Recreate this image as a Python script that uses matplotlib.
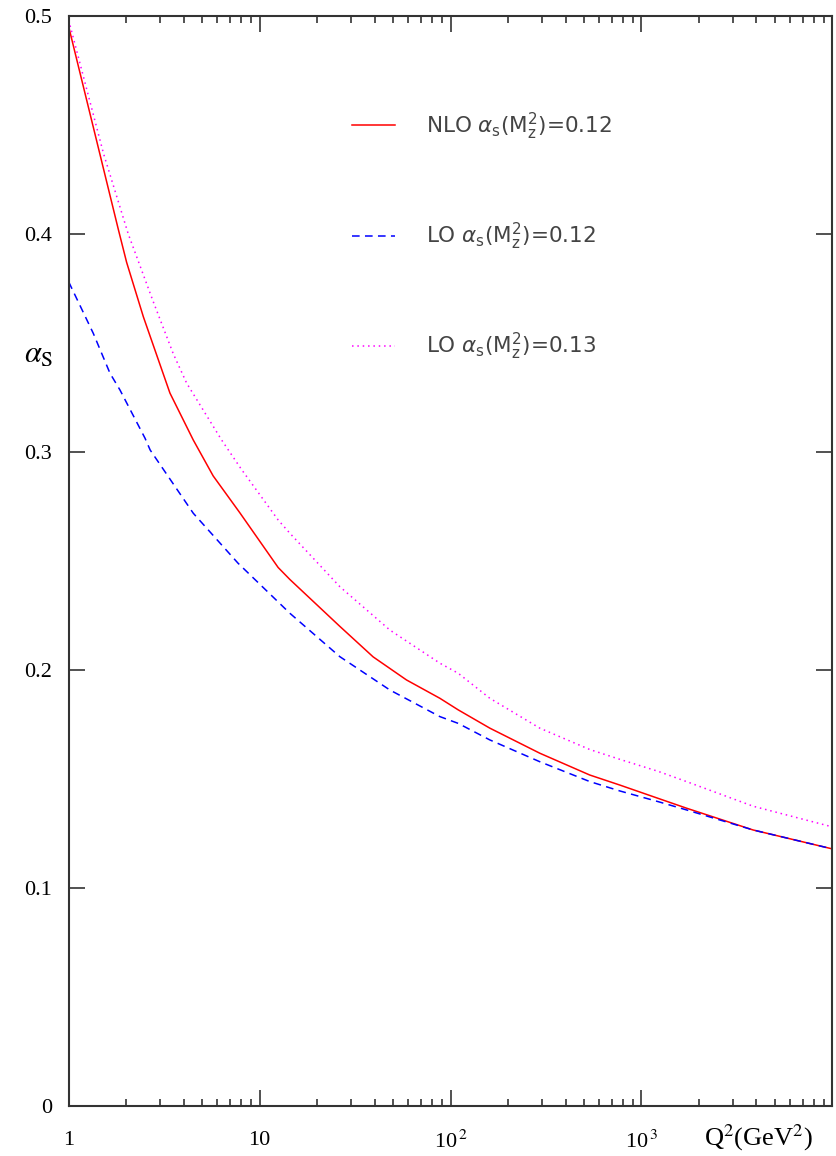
"""
alpha_s running: NLO vs LO
"""

import numpy as np
import matplotlib.pyplot as plt
from matplotlib.ticker import FixedLocator, FuncFormatter, NullFormatter

# values, Q^2 in GeV^2
q2_nlo = [1, 1.345, 1.82, 2.01, 2.46, 3.39, 4.49, 5.71, 7.89, 12.5, 14.4,
          26.3, 39.3, 58.8, 87.9, 109.6, 160.6, 293.4, 536, 770, 1222,
          1720, 3840, 10000]
nlo_012 = [0.495, 0.449, 0.402, 0.387, 0.362, 0.327, 0.3055, 0.289, 0.272,
           0.247, 0.2415, 0.220, 0.206, 0.1954, 0.187, 0.1817, 0.1733,
           0.1618, 0.1518, 0.1472, 0.1411, 0.1366, 0.1266, 0.1179]

q2_lo12 = [1, 1.345, 1.645, 1.856, 2.51, 2.67, 4.49, 7.7, 12.5, 14.4,
           26.3, 48.1, 87.9, 109.6, 160.6, 293.4, 536, 770, 1222, 1720,
           3840, 10000]
lo_012 = [0.378, 0.3544, 0.3361, 0.3284, 0.3063, 0.3009, 0.2719, 0.249,
          0.2312, 0.226, 0.2061, 0.1908, 0.1786, 0.1755, 0.1679, 0.1579,
          0.1488, 0.1445, 0.1396, 0.1358, 0.1266, 0.1179]

q2_lo13 = [1, 1.52, 2.05, 2.77, 3.53, 4.15, 6.32, 8.0, 12.5, 14.4,
           26.3, 48.1, 87.9, 109.6, 160.6, 293.4, 536, 770, 1222, 1720,
           3840, 10000]
lo_013 = [0.498, 0.437, 0.400, 0.369, 0.345, 0.3315, 0.3055, 0.2922,
          0.2688, 0.2627, 0.2382, 0.2183, 0.2031, 0.1985, 0.187, 0.1733,
          0.1635, 0.159, 0.1535, 0.1488, 0.1375, 0.128]

labels = [r"NLO $\alpha_{\rm s}(\rm M_z^2)$=0.12",
          r"LO $\alpha_{\rm s}(\rm M_z^2)$=0.12",
          r"LO $\alpha_{\rm s}(\rm M_z^2)$=0.13"]

serif = ["Liberation Serif", "DejaVu Serif"]

if __name__ == "__main__":
    fig = plt.figure(figsize=(8.36, 11.56), dpi=100)
    ax = fig.add_axes([0.0822, 0.0433, 0.9135, 0.9429])

    l1, = ax.plot(q2_nlo, nlo_012, color="#ff0000", lw=1.1, ls="-")
    l2, = ax.plot(q2_lo12, lo_012, color="#0000ff", lw=1.1, ls=(0, (5, 3.5)))
    l3, = ax.plot(q2_lo13, lo_013, color="#ff00ff", lw=1.1, ls=(0, (1, 2.5)))

    ax.set_xscale("log")
    ax.set_xlim(1, 1e4)
    ax.set_ylim(0, 0.5)

    # x ticks
    ax.xaxis.set_major_locator(FixedLocator([1, 10, 100, 1000, 10000]))
    minors = [m * 10 ** d for d in range(4) for m in range(2, 10)]
    ax.xaxis.set_minor_locator(FixedLocator(minors))
    ax.xaxis.set_minor_formatter(NullFormatter())
    xlab = {1: "1", 10: "10", 100: r"10$^{\,2}$", 1000: r"10$^{\,3}$"}
    ax.xaxis.set_major_formatter(FuncFormatter(lambda v, p: xlab.get(int(round(v)), "")))

    # y ticks
    ax.yaxis.set_major_locator(FixedLocator([0, 0.1, 0.2, 0.3, 0.4, 0.5]))
    ax.yaxis.set_major_formatter(FuncFormatter(lambda v, p: "0" if v == 0 else "%.1f" % v))

    ax.tick_params(which="both", direction="in", top=True, right=True,
                   color="#333333", width=1.2)
    ax.tick_params(axis="x", which="major", length=11.5, pad=18, labelsize=16)
    ax.tick_params(axis="x", which="minor", length=5)
    ax.tick_params(axis="y", which="major", length=11.5, pad=12, labelsize=16)
    for lab in ax.get_xticklabels() + ax.get_yticklabels():
        lab.set_family(serif)
        lab.set_math_fontfamily("stix")

    for s in ax.spines.values():
        s.set_linewidth(1.5)
        s.set_color("#333333")

    ax.text(-0.039, 0.689, r"$\alpha_{\rm S}$", transform=ax.transAxes,
            fontsize=22, family=serif, math_fontfamily="stix", ha="center", va="center")
    ax.text(0.974, -0.029, r"Q$^2$(GeV$^2$)", transform=ax.transAxes,
            fontsize=19, family=serif, math_fontfamily="stix", ha="right", va="center")

    leg = ax.legend([l1, l2, l3], labels, loc="upper left",
                    bbox_to_anchor=(0.345, 0.931), frameon=False,
                    fontsize=15.5, labelspacing=3.67, handlelength=2.0,
                    handletextpad=1.45, labelcolor="#444444")
    for t in leg.get_texts():
        t.set_family(["DejaVu Sans"])

    fig.savefig("out.png", dpi=100)
